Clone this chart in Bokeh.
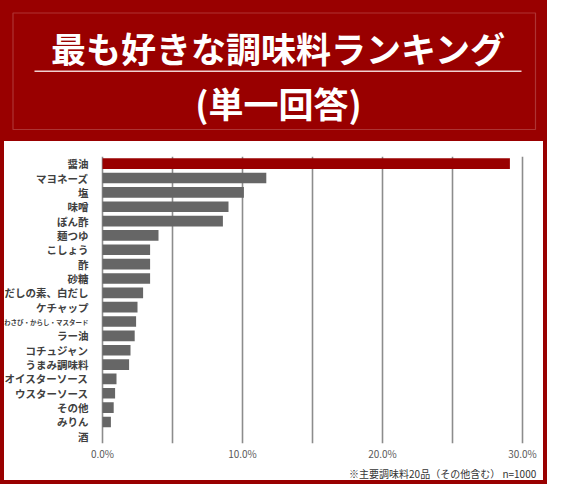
from bokeh.core.properties import value
from bokeh.embed import file_html
from bokeh.layouts import column
from bokeh.models import (BoxAnnotation, ColumnDataSource, FactorRange, FixedTicker,
                          Label, PrintfTickFormatter, Range1d, Title)
from bokeh.plotting import figure
from bokeh.resources import INLINE

# data (percent of respondents, single answer, n=1000)
items = ["醤油", "マヨネーズ", "塩", "味噌", "ぽん酢", "麺つゆ", "こしょう", "酢", "砂糖",
         "だしの素、白だし", "ケチャップ", "わさび・からし・マスタード", "ラー油", "コチュジャン",
         "うまみ調味料", "オイスターソース", "ウスターソース", "その他", "みりん", "酒"]
shares = [29.1, 11.7, 10.1, 9.0, 8.6, 4.0, 3.4, 3.4, 3.4, 2.9,
          2.5, 2.4, 2.3, 2.0, 1.9, 1.0, 0.9, 0.8, 0.6, 0.0]
x_ticks = [0, 10, 20, 30]
grid_ticks = [0, 5, 10, 15, 20, 25, 30]

title_1 = "最も好きな調味料ランキング"
title_2 = "(単一回答)"
note = "※主要調味料20品（その他含む）  n=1000"

RED = "#990000"
GRAY = "#666666"
FONT = "Noto Sans CJK JP"

# ---- header ----
head = figure(width=547, height=141, x_range=Range1d(0, 547), y_range=Range1d(141, 0),
              output_backend="svg", toolbar_location=None, tools="",
              min_border=0)
head.axis.visible = False
head.grid.grid_line_color = None
head.background_fill_color = RED
head.border_fill_color = RED
head.outline_line_color = None

head.add_layout(BoxAnnotation(left=12.5, right=535, top=12.5, bottom=129,
                              fill_alpha=0, line_color="#e0a8a8", line_width=1.2))
head.add_layout(BoxAnnotation(left=34, right=521, top=70, bottom=71.5,
                              fill_color="#f0d0d0", fill_alpha=1, line_alpha=0))
for txt, y in [(title_1, 46.5), (title_2, 102)]:
    head.add_layout(Label(x=278, y=y, text=txt, text_align="center",
                          text_baseline="middle", text_font=FONT,
                          text_font_style="bold", text_font_size="35px",
                          text_color="white"))

# ---- bar chart ----
source = ColumnDataSource(dict(
    item=items,
    share=shares,
    color=[RED if i == 0 else GRAY for i in range(len(items))],
))

p = figure(
    width=539, height=339, margin=(0, 4, 4, 4),
    x_range=Range1d(-7.0, 31.5),
    y_range=FactorRange(factors=items[::-1], range_padding=0),
    output_backend="svg", toolbar_location=None, tools="",
    min_border_left=0, min_border_right=0, min_border_top=15, min_border_bottom=28,
    styles={"background-color": "white"},
)
p.border_fill_color = "white"
p.background_fill_color = "white"
p.outline_line_color = None

p.hbar(y="item", right="share", left=0, height=0.74, color="color",
       line_color=None, source=source)

# category labels, the long one is set small as in the original
for names, size in [([s for s in items if len(s) <= 10], "10.5px"),
                    ([s for s in items if len(s) > 10], "6.5px")]:
    src = ColumnDataSource(dict(item=names, zero=[0] * len(names)))
    p.text(x="zero", y="item", text="item", source=src, x_offset=-14,
           text_align="right", text_baseline="middle", text_font=value(FONT),
           text_font_style="bold", text_font_size=size, text_color="#404040")

p.yaxis.visible = False
p.ygrid.grid_line_color = None
p.xgrid.ticker = FixedTicker(ticks=grid_ticks)
p.xgrid.grid_line_color = "#8c8c8c"
p.xgrid.grid_line_width = 1.6
p.xaxis.ticker = FixedTicker(ticks=x_ticks)
p.xaxis.formatter = PrintfTickFormatter(format="%.1f%%")
p.xaxis.axis_line_color = None
p.xaxis.major_tick_line_color = None
p.xaxis.minor_tick_line_color = None
p.xaxis.major_tick_out = 0
p.xaxis.minor_tick_out = 0
p.xaxis.major_label_standoff = 2
p.xaxis.major_label_text_font = FONT
p.xaxis.major_label_text_font_size = "10px"
p.xaxis.major_label_text_line_height = 1.0
p.xaxis.major_label_text_color = "#595959"

p.add_layout(Title(text=note, align="right", offset=5, standoff=0,
                   text_font=FONT, text_font_size="10px", text_line_height=1.0,
                   text_font_style="normal", text_color="#333333"), "below")

layout = column(head, p, styles={"background-color": RED})

open("out.html", "w").write(file_html(layout, INLINE))
